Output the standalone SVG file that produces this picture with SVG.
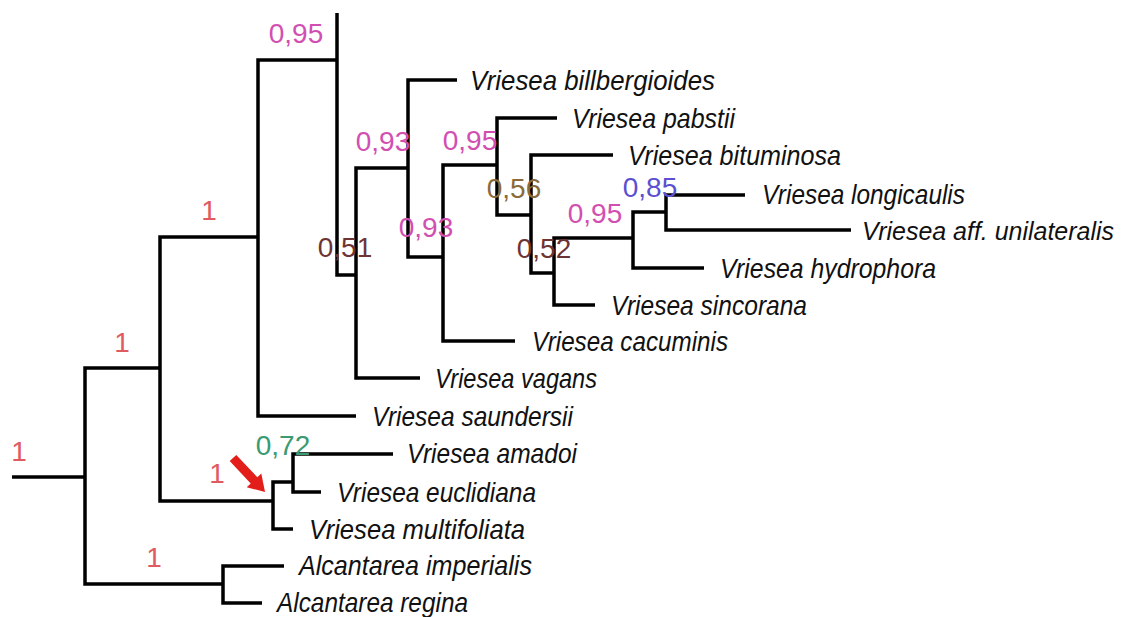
<svg xmlns="http://www.w3.org/2000/svg" width="1128" height="617" viewBox="0 0 1128 617">
<style>
.br{fill:none;stroke:#000;stroke-width:3.5;stroke-linejoin:miter;stroke-linecap:butt}
.sp{font-family:"Liberation Sans",Arial,sans-serif;font-style:italic;font-size:28px;fill:#111}
.sv{font-family:"Liberation Sans",Arial,sans-serif;font-size:28px;text-anchor:middle}
.r{fill:#e05a60}.p{fill:#d24fb2}.b{fill:#8b6b3a}.d{fill:#6e3434}.u{fill:#5b50d0}.g{fill:#3a9a72}
</style>
<rect width="1128" height="617" fill="#fff"/>
<g id="connectors">
<path class="br" d="M12,477 H85"/>
<path class="br" d="M160,368 H85 V584 H223"/>
<path class="br" d="M258,237 H160 V501 H273"/>
<path class="br" d="M337,60 H258 V416 H356"/>
<path class="br" d="M337,13 V275 H356"/>
<path class="br" d="M408,168 H356 V378 H420"/>
<path class="br" d="M457,80 H408 V257 H443"/>
<path class="br" d="M497,165 H443 V341 H515"/>
<path class="br" d="M557,118 H497 V215 H531"/>
<path class="br" d="M613,155 H531 V273 H554"/>
<path class="br" d="M633,238 H554 V305 H595"/>
<path class="br" d="M666,212 H633 V268 H704"/>
<path class="br" d="M745,195 H666 V230 H851"/>
<path class="br" d="M293,482 H273 V529 H293"/>
<path class="br" d="M393,454 H293 V492 H321"/>
<path class="br" d="M284,566 H223 V603 H262"/>
</g>
<g id="support">
<text class="sv r" x="19" y="461">1</text>
<text class="sv r" x="122" y="352">1</text>
<text class="sv r" x="209" y="220">1</text>
<text class="sv r" x="154" y="567">1</text>
<text class="sv r" x="217" y="483">1</text>
<text class="sv g" x="283" y="455">0,72</text>
<text class="sv p" x="296" y="43">0,95</text>
<text class="sv p" x="383" y="151">0,93</text>
<text class="sv d" x="345" y="257">0,51</text>
<text class="sv p" x="426" y="237">0,93</text>
<text class="sv p" x="470" y="150">0,95</text>
<text class="sv b" x="514" y="198">0,56</text>
<text class="sv d" x="544" y="258">0,52</text>
<text class="sv p" x="595" y="223">0,95</text>
<text class="sv u" x="650" y="197">0,85</text>
</g>
<g id="arrow">
<polygon points="236.3,454.9 257.3,477.2 261.3,473.5 265,492 246.7,487.2 250.7,483.4 229.7,461.1" fill="#e31d1a"/>
</g>
<g id="taxon-billbergioides"><text class="sp" x="470" y="90" textLength="245" lengthAdjust="spacingAndGlyphs">Vriesea billbergioides</text></g>
<g id="taxon-pabstii"><text class="sp" x="572" y="128" textLength="163" lengthAdjust="spacingAndGlyphs">Vriesea pabstii</text></g>
<g id="taxon-bituminosa"><text class="sp" x="628" y="165" textLength="213" lengthAdjust="spacingAndGlyphs">Vriesea bituminosa</text></g>
<g id="taxon-longicaulis"><text class="sp" x="762" y="204" textLength="203" lengthAdjust="spacingAndGlyphs">Vriesea longicaulis</text></g>
<g id="taxon-unilateralis"><text class="sp" x="862" y="240" font-size="26" textLength="252" lengthAdjust="spacingAndGlyphs" style="font-size:26px">Vriesea aff. unilateralis</text></g>
<g id="taxon-hydrophora"><text class="sp" x="720" y="278" textLength="216" lengthAdjust="spacingAndGlyphs">Vriesea hydrophora</text></g>
<g id="taxon-sincorana"><text class="sp" x="611" y="315" textLength="196" lengthAdjust="spacingAndGlyphs">Vriesea sincorana</text></g>
<g id="taxon-cacuminis"><text class="sp" x="532" y="351" textLength="196" lengthAdjust="spacingAndGlyphs">Vriesea cacuminis</text></g>
<g id="taxon-vagans"><text class="sp" x="435" y="388" textLength="162" lengthAdjust="spacingAndGlyphs">Vriesea vagans</text></g>
<g id="taxon-saundersii"><text class="sp" x="372" y="426" textLength="201" lengthAdjust="spacingAndGlyphs">Vriesea saundersii</text></g>
<g id="taxon-amadoi"><text class="sp" x="407" y="463" textLength="170" lengthAdjust="spacingAndGlyphs">Vriesea amadoi</text></g>
<g id="taxon-euclidiana"><text class="sp" x="337" y="502" textLength="199" lengthAdjust="spacingAndGlyphs">Vriesea euclidiana</text></g>
<g id="taxon-multifoliata"><text class="sp" x="309" y="539" textLength="216" lengthAdjust="spacingAndGlyphs">Vriesea multifoliata</text></g>
<g id="taxon-imperialis"><text class="sp" x="299" y="575" textLength="233" lengthAdjust="spacingAndGlyphs">Alcantarea imperialis</text></g>
<g id="taxon-regina"><text class="sp" x="277" y="612" textLength="191" lengthAdjust="spacingAndGlyphs">Alcantarea regina</text></g>
</svg>
